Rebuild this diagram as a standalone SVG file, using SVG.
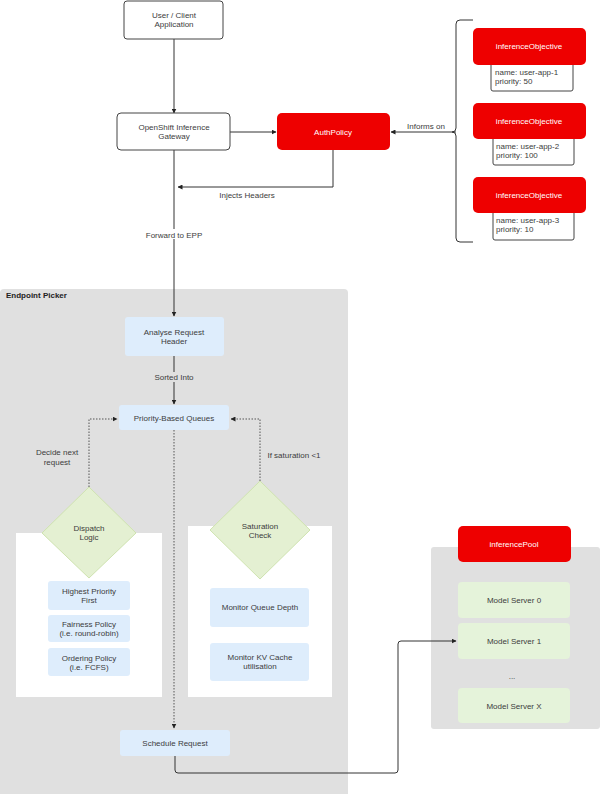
<svg xmlns="http://www.w3.org/2000/svg" width="600" height="794" viewBox="0 0 600 794">
<defs>
<marker id="ah" viewBox="0 0 10 10" refX="9" refY="5" markerWidth="5" markerHeight="5" orient="auto-start-reverse"><path d="M0,0 L10,5 L0,10 z" fill="#222"/></marker>
<style>
text{font-family:"Liberation Sans","Open Sans",sans-serif;font-size:8px;fill:#3c3c3c;text-anchor:middle}
.w{fill:#fff}
.l{text-anchor:start}
.b{font-weight:bold;fill:#222}
.box{fill:#fff;stroke:#444;stroke-width:1}
.red{fill:#ee0000}
.blue{fill:#deedfc}
.green{fill:#e5f3da}
.dia{fill:#e4f0d2;stroke:#cfe3b0;stroke-width:1}
.panel{fill:#fff}
.gray{fill:#e0e0e0}
.c{fill:none;stroke:#333;stroke-width:1}
.d{fill:none;stroke:#555;stroke-width:1;stroke-dasharray:1.5 1.5}
</style>
</defs>
<rect width="600" height="794" fill="#fff"/>

<g id="endpoint-picker">
<rect class="gray" x="0" y="289" width="348" height="520" rx="4"/>
<text class="b l" x="6" y="298">Endpoint Picker</text>
</g>
<g id="dispatch-panel"><rect class="panel" x="16" y="533" width="146" height="164"/></g>
<g id="saturation-panel"><rect class="panel" x="188" y="526" width="144" height="171"/></g>
<g id="pool-panel"><rect class="gray" x="431" y="547" width="169" height="182" rx="3"/></g>

<g id="connectors">
<path class="c" d="M174,39 V113" marker-end="url(#ah)"/>
<path class="c" d="M230,132 H276" marker-end="url(#ah)"/>
<path class="c" d="M333,150 V187 H178" marker-end="url(#ah)"/>
<path class="c" d="M456,132 H391" marker-end="url(#ah)"/>
<path class="c" d="M174,150 V316" marker-end="url(#ah)"/>
<path class="c" d="M174,356 V404" marker-end="url(#ah)"/>
<path class="d" d="M174,430 V728" marker-end="url(#ah)"/>
<path class="d" d="M89,487 V419 H117" marker-end="url(#ah)"/>
<path class="d" d="M260,481 V419 H231" marker-end="url(#ah)"/>
<path class="c" d="M175,756 V770 Q175,773 178,773 H395 Q398,773 398,770 V644 Q398,641 401,641 H456" marker-end="url(#ah)"/>
<path class="c" d="M473,20 H460 Q456,20 456,24 V128 Q456,132 452,132 Q456,132 456,136 V238 Q456,242 460,242 H473"/>
</g>
<g id="connector-labels">
<text x="247" y="198">Injects Headers</text>
<rect x="140" y="229" width="68" height="10" fill="#fff"/>
<text x="174" y="238">Forward to EPP</text>
<text x="426" y="129">Informs on</text>
<rect x="148" y="372" width="52" height="10" fill="#e0e0e0"/>
<text x="174" y="380">Sorted Into</text>
<text x="57" y="455">Decide next</text>
<text x="57" y="465">request</text>
<text x="294" y="458">If saturation &lt;1</text>
</g>

<g id="user-client"><rect class="box" x="124" y="1" width="99" height="38" rx="3"/><text x="174" y="18">User / Client</text><text x="174" y="27">Application</text></g>
<g id="gateway"><rect class="box" x="117" y="113" width="113" height="37" rx="4"/><text x="174" y="130">OpenShift Inference</text><text x="174" y="139">Gateway</text></g>
<g id="authpolicy"><rect class="red" x="277" y="113" width="113" height="37" rx="5"/><text class="w" x="333" y="135">AuthPolicy</text></g>

<g id="objective-1"><rect class="box" x="491" y="60" width="82" height="31" rx="2"/><rect class="red" x="473" y="28" width="113" height="37" rx="5"/><text class="w" x="529" y="49">inferenceObjective</text><text class="l" x="495" y="75">name: user-app-1</text><text class="l" x="495" y="84">priority: 50</text></g>
<g id="objective-2"><rect class="box" x="493" y="134" width="81" height="31" rx="2"/><rect class="red" x="473" y="103" width="113" height="36" rx="5"/><text class="w" x="529" y="124">inferenceObjective</text><text class="l" x="496" y="149">name: user-app-2</text><text class="l" x="496" y="158">priority: 100</text></g>
<g id="objective-3"><rect class="box" x="493" y="208" width="81" height="32" rx="2"/><rect class="red" x="473" y="177" width="113" height="36" rx="5"/><text class="w" x="529" y="198">inferenceObjective</text><text class="l" x="496" y="223">name: user-app-3</text><text class="l" x="496" y="232">priority: 10</text></g>

<g id="analyse"><rect class="blue" x="125" y="317" width="99" height="39" rx="3"/><text x="174" y="335">Analyse Request</text><text x="174" y="344">Header</text></g>
<g id="queues"><rect class="blue" x="119" y="405" width="110" height="25" rx="3"/><text x="174" y="421">Priority-Based Queues</text></g>

<g id="dispatch-logic"><path class="dia" d="M89,487 L136,533 L89,578 L42,533 Z"/><text x="89" y="531">Dispatch</text><text x="89" y="540">Logic</text></g>
<g id="highest"><rect class="blue" x="48" y="581" width="82" height="29" rx="3"/><text x="89" y="594">Highest Priority</text><text x="89" y="603">First</text></g>
<g id="fairness"><rect class="blue" x="48" y="615" width="82" height="27" rx="3"/><text x="89" y="627">Fairness Policy</text><text x="89" y="636">(i.e. round-robin)</text></g>
<g id="ordering"><rect class="blue" x="48" y="648" width="82" height="28" rx="3"/><text x="89" y="661">Ordering Policy</text><text x="89" y="670">(i.e. FCFS)</text></g>

<g id="saturation-check"><path class="dia" d="M260,481 L310,530 L260,579 L210,530 Z"/><text x="260" y="529">Saturation</text><text x="260" y="538">Check</text></g>
<g id="queue-depth"><rect class="blue" x="210" y="588" width="99" height="39" rx="3"/><text x="260" y="610">Monitor Queue Depth</text></g>
<g id="kv-cache"><rect class="blue" x="210" y="643" width="99" height="38" rx="3"/><text x="260" y="660">Monitor KV Cache</text><text x="260" y="669">utilisation</text></g>

<g id="schedule"><rect class="blue" x="120" y="730" width="110" height="26" rx="3"/><text x="175" y="746">Schedule Request</text></g>

<g id="inference-pool"><rect class="red" x="458" y="526" width="113" height="36" rx="5"/><text class="w" x="514" y="547">inferencePool</text></g>
<g id="ms0"><rect class="green" x="458" y="582" width="112" height="36" rx="4"/><text x="514" y="603">Model Server 0</text></g>
<g id="ms1"><rect class="green" x="458" y="623" width="112" height="36" rx="4"/><text x="514" y="644">Model Server 1</text></g>
<g id="dots"><text x="512" y="679">...</text></g>
<g id="msx"><rect class="green" x="458" y="688" width="112" height="35" rx="4"/><text x="514" y="709">Model Server X</text></g>
</svg>
